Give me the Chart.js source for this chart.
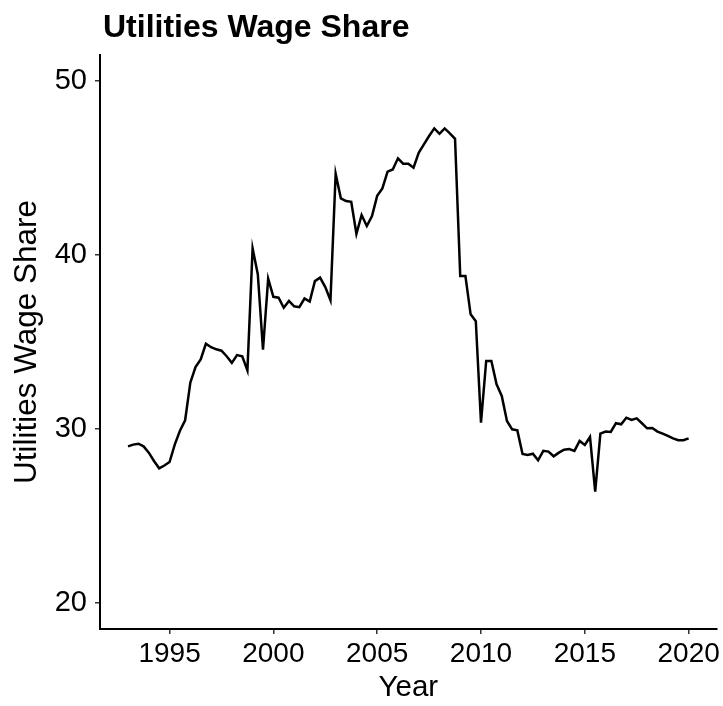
<!DOCTYPE html>
<html>
<head>
<meta charset="utf-8">
<script src="https://cdn.jsdelivr.net/npm/chart.js@4.4.1/dist/chart.umd.min.js"></script>
<style>
  html, body { margin: 0; padding: 0; background: #fff; }
  #wrap { width: 723px; height: 706px; position: relative; }
</style>
</head>
<body>
<div id="wrap"><canvas id="wageChart" width="723" height="706"></canvas></div>
<script>
// quarterly series, first quarter of 1993 to first quarter of 2020
const startYear = 1993;
const wageShare = [
    29.0, 29.1, 29.15, 29.0, 28.64, 28.16, 27.74, 27.9,
    28.1, 29.1, 29.9, 30.5, 32.66, 33.56, 34.0, 34.9,
    34.7, 34.58, 34.5, 34.18, 33.8, 34.25, 34.18, 33.37,
    40.38, 38.9, 34.56, 38.64, 37.6, 37.55, 36.97, 37.36,
    37.05, 37.0, 37.5, 37.32, 38.5, 38.7, 38.16, 37.4,
    44.67, 43.26, 43.1, 43.06, 41.22, 42.3, 41.67, 42.24,
    43.4, 43.83, 44.79, 44.92, 45.56, 45.25, 45.25, 45.02,
    45.88, 46.36, 46.84, 47.28, 46.97, 47.28, 47.0, 46.68,
    38.79, 38.79, 36.59, 36.2, 30.36, 33.91, 33.91, 32.57,
    31.9, 30.46, 29.98, 29.92, 28.56, 28.5, 28.58, 28.2,
    28.74, 28.7, 28.43, 28.64, 28.81, 28.85, 28.74, 29.31,
    29.08, 29.54, 26.4, 29.73, 29.85, 29.83, 30.33, 30.27,
    30.65, 30.52, 30.61, 30.33, 30.04, 30.06, 29.85, 29.73,
    29.6, 29.46, 29.35, 29.35, 29.46
];
const xTicks = [1995, 2000, 2005, 2010, 2015, 2020];
const yTicks = [20, 30, 40, 50];

const points = wageShare.map((v, i) => ({x: startYear + i / 4, y: v}));

const fontFamily = "'Liberation Sans', Arial, Helvetica, sans-serif";

// bold title drawn above the panel, left aligned with the y axis
const plotTitle = {
    id: "plotTitle",
    afterDraw(chart) {
        const c = chart.ctx;
        c.save();
        c.fillStyle = "#000";
        c.font = "bold 32px " + fontFamily;
        c.textBaseline = "alphabetic";
        c.fillText("Utilities Wage Share", 103, 37);
        c.restore();
    }
};

const ctx = document.getElementById("wageChart").getContext("2d");
new Chart(ctx, {
    type: "line",
    data: {
        datasets: [{
            label: "Utilities Wage Share",
            data: points,
            borderColor: "#000",
            borderWidth: 2.5,
            pointRadius: 0,
            tension: 0,
            fill: false
        }]
    },
    options: {
        responsive: false,
        animation: false,
        layout: {padding: {top: 55, right: 5, left: 0, bottom: 0}},
        plugins: {
            legend: {display: false},
            tooltip: {enabled: false}
        },
        scales: {
            x: {
                type: "linear",
                min: 1991.65,
                max: 2021.35,
                afterBuildTicks: s => { s.ticks = xTicks.map(v => ({value: v})); },
                afterFit: s => { s.height = 77; },
                border: {display: true, color: "#000", width: 2},
                grid: {display: true, drawOnChartArea: false, drawTicks: true, tickLength: 5, color: "#333", lineWidth: 1.5},
                ticks: {
                    color: "#000",
                    font: {family: fontFamily, size: 28},
                    padding: 3,
                    maxRotation: 0,
                    callback: v => String(v)
                },
                title: {
                    display: true,
                    text: "Year",
                    color: "#000",
                    font: {family: fontFamily, size: 29.5},
                    padding: {top: 0, bottom: 0}
                }
            },
            y: {
                type: "linear",
                min: 18.5,
                max: 51.5,
                afterBuildTicks: s => { s.ticks = yTicks.map(v => ({value: v})); },
                afterFit: s => { s.width = 100; },
                border: {display: true, color: "#000", width: 2},
                grid: {display: true, drawOnChartArea: false, drawTicks: true, tickLength: 5, color: "#333", lineWidth: 1.5},
                ticks: {
                    color: "#000",
                    font: {family: fontFamily, size: 29},
                    padding: 8,
                    callback: v => String(v)
                },
                title: {
                    display: true,
                    text: "Utilities Wage Share",
                    color: "#000",
                    font: {family: fontFamily, size: 31.5},
                    padding: {top: 8, bottom: 0}
                }
            }
        }
    },
    plugins: [plotTitle]
});
</script>
</body>
</html>
